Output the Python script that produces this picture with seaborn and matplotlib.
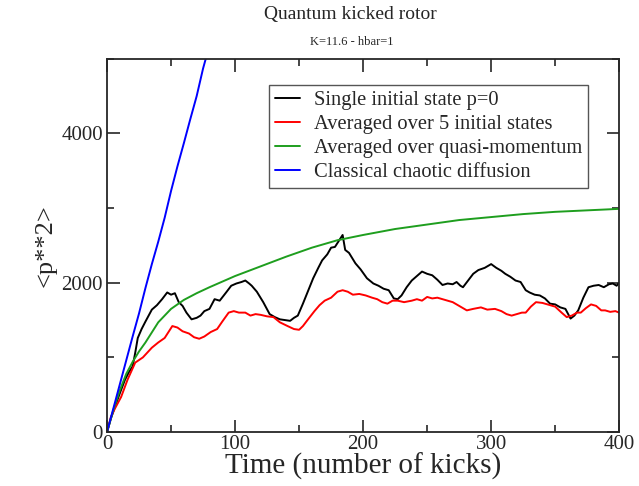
import matplotlib
matplotlib.use("Agg")
import matplotlib.pyplot as plt
import seaborn as sns
import pandas as pd
from matplotlib.ticker import MultipleLocator

# values (kicks, <p**2>)
single_t = [0, 3, 6, 10, 14, 17, 20, 22, 24, 27, 30, 35, 39, 43, 47, 50, 53, 56, 59, 62, 66, 70,
            73, 76, 80, 84, 88, 93, 97, 101, 105, 108, 111, 113, 117, 122, 127, 131, 135, 139,
            143, 146, 149, 153, 157, 161, 165, 168, 172, 175, 178, 181, 184, 186, 189, 194, 198,
            203, 208, 212, 216, 220, 224, 227, 230, 234, 238, 242, 246, 250, 254, 258, 262, 266,
            270, 273, 276, 278, 282, 286, 290, 295, 300, 304, 308, 311, 315, 319, 323, 327, 330,
            334, 338, 342, 346, 350, 354, 358, 362, 365, 368, 372, 376, 380, 384, 388, 392, 395,
            398, 400]
single_p = [0, 180, 330, 520, 700, 800, 880, 1060, 1260, 1380, 1480, 1640, 1700, 1780, 1870, 1840,
            1860, 1740, 1690, 1600, 1510, 1530, 1560, 1620, 1650, 1780, 1760, 1870, 1960, 1990, 2010,
            2030, 1990, 1960, 1880, 1740, 1580, 1540, 1510, 1500, 1490, 1530, 1560, 1720, 1890, 2060,
            2200, 2300, 2380, 2470, 2480, 2560, 2640, 2440, 2400, 2260, 2180, 2060, 1990, 1960, 1920,
            1900, 1790, 1780, 1830, 1940, 2030, 2090, 2150, 2120, 2100, 2040, 1970, 1990, 1980, 2010,
            1960, 1940, 2030, 2120, 2170, 2200, 2250, 2200, 2160, 2120, 2080, 2030, 2010, 1900, 1870,
            1840, 1830, 1790, 1720, 1710, 1670, 1650, 1520, 1560, 1630, 1800, 1940, 1960, 1970, 1940,
            1980, 1990, 1960, 2000]

avg5_t = [0, 3, 6, 11, 16, 22, 28, 35, 40, 45, 51, 55, 59, 64, 68, 72, 76, 81, 86, 90, 95, 99, 103,
          108, 112, 116, 120, 125, 130, 135, 141, 146, 150, 153, 157, 162, 166, 170, 175, 180, 184,
          188, 192, 197, 202, 207, 211, 215, 219, 223, 227, 232, 238, 242, 246, 250, 254, 258, 262,
          266, 270, 275, 281, 286, 292, 297, 303, 308, 312, 316, 320, 324, 327, 331, 335, 340, 346,
          350, 355, 359, 363, 367, 370, 374, 378, 382, 386, 389, 393, 397, 400]
avg5_p = [0, 200, 310, 470, 700, 930, 1000, 1130, 1200, 1260, 1420, 1400, 1350, 1320, 1270, 1250,
          1280, 1340, 1380, 1480, 1600, 1620, 1600, 1600, 1560, 1580, 1570, 1550, 1540, 1470, 1420,
          1380, 1370, 1420, 1510, 1620, 1700, 1760, 1800, 1880, 1900, 1880, 1840, 1850, 1830, 1800,
          1780, 1740, 1720, 1760, 1760, 1740, 1760, 1780, 1760, 1810, 1790, 1800, 1780, 1760, 1740,
          1690, 1630, 1650, 1670, 1640, 1650, 1620, 1580, 1560, 1580, 1600, 1600, 1680, 1740, 1730,
          1700, 1680, 1600, 1540, 1560, 1600, 1600, 1660, 1710, 1690, 1630, 1630, 1610, 1620, 1600]

quasi_t = [0, 5, 10, 15, 20, 25, 30, 40, 50, 60, 70, 80, 100, 120, 140, 160, 180, 200, 225, 250,
           275, 300, 325, 350, 375, 400]
quasi_p = [0, 300, 560, 780, 940, 1080, 1200, 1470, 1650, 1770, 1860, 1940, 2090, 2220, 2350, 2470,
           2570, 2640, 2720, 2780, 2840, 2880, 2920, 2950, 2970, 2990]

classic_t = [0, 5, 10, 15, 20, 25, 30, 35, 40, 45, 50, 55, 60, 65, 70, 75, 80]
classic_p = [0, 320, 640, 960, 1280, 1590, 1930, 2250, 2550, 2870, 3230, 3560, 3870, 4190, 4500,
             4870, 5180]

labels = ["Single initial state p=0", "Averaged over 5 initial states",
          "Averaged over quasi-momentum", "Classical chaotic diffusion"]
colors = ["black", "#ff0000", "#1e9e1e", "#0000ff"]

frames = []
for name, t, p in zip(labels, [single_t, avg5_t, quasi_t, classic_t],
                      [single_p, avg5_p, quasi_p, classic_p]):
    frames.append(pd.DataFrame({"t": t, "p2": p, "series": name}))
df = pd.concat(frames, ignore_index=True)

sns.set_style("ticks")
plt.rcParams["font.family"] = ["Liberation Serif", "DejaVu Serif"]

fig = plt.figure(figsize=(6.39, 4.86), dpi=100)
ax = fig.add_axes([0.1675, 0.111, 0.8015, 0.768])

sns.lineplot(data=df, x="t", y="p2", hue="series", hue_order=labels,
             palette=dict(zip(labels, colors)), sort=False, estimator=None,
             linewidth=1.4, ax=ax)

ax.set_xlim(0, 400)
ax.set_ylim(0, 5000)
ax.xaxis.set_major_locator(MultipleLocator(100))
ax.xaxis.set_minor_locator(MultipleLocator(50))
ax.yaxis.set_major_locator(MultipleLocator(2000))
ax.yaxis.set_minor_locator(MultipleLocator(1000))
ax.tick_params(which="both", direction="in", top=True, right=True, width=1.2,
               labelsize=15, pad=2)
ax.tick_params(axis="y", pad=3)
ax.tick_params(which="major", length=9)
ax.tick_params(which="minor", length=5)
for s in ax.spines.values():
    s.set_linewidth(1.3)

ax.set_xlabel("Time (number of kicks)", fontsize=21, labelpad=-1)
ax.set_ylabel("<p**2>", fontsize=19, labelpad=3)

fig.text(0.548, 0.971, "Quantum kicked rotor", ha="center", va="center", fontsize=14)
fig.text(0.551, 0.914, "K=11.6 - hbar=1", ha="center", va="center", fontsize=9)

leg = ax.legend(loc="upper right", bbox_to_anchor=(0.94, 0.93), fontsize=14.8,
                frameon=True, fancybox=False, edgecolor="#555555", framealpha=1,
                handlelength=1.2, handletextpad=0.7, borderpad=0.3, labelspacing=0.22,
                borderaxespad=0)
leg.get_frame().set_linewidth(1.0)

fig.savefig("out.png", dpi=100)
